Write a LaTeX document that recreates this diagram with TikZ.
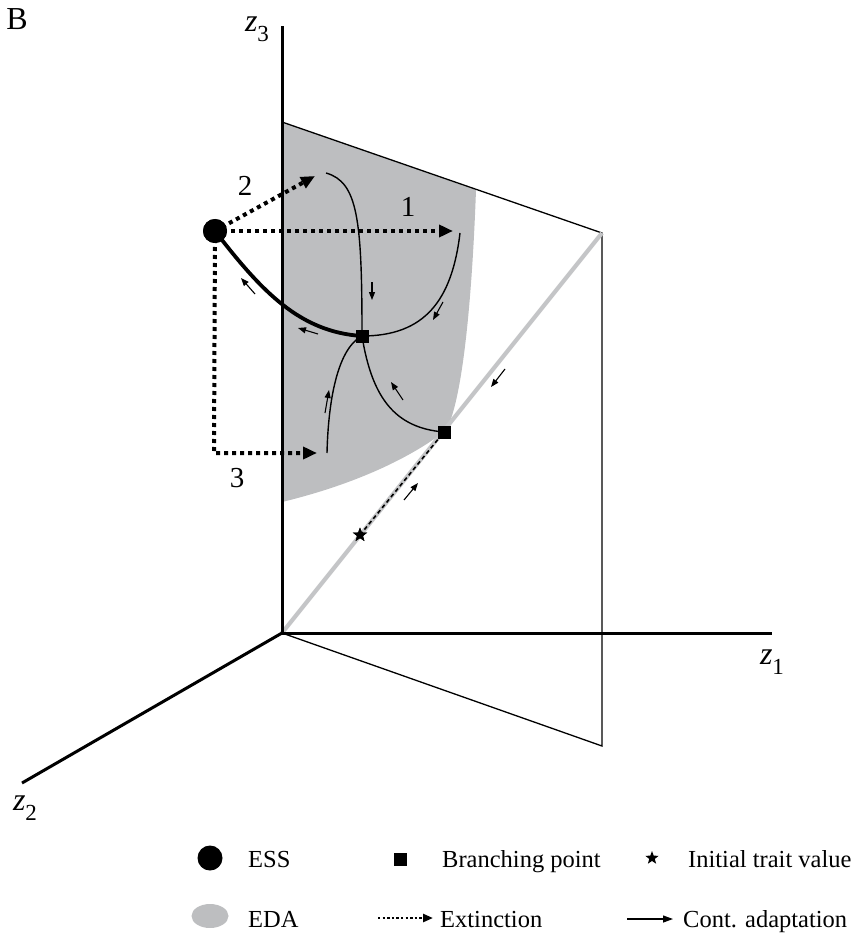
\documentclass[tikz,border=0pt]{standalone}
\usepackage{fontspec}
\setmainfont{Liberation Serif}
\usetikzlibrary{arrows.meta,shapes.geometric}
\definecolor{edagray}{RGB}{189,190,192}
\definecolor{diaggray}{RGB}{196,197,199}
\newcommand\zlab[1]{{\itshape z}\raisebox{-0.32em}{\fontsize{23}{25}\selectfont #1}}
\begin{document}
\begin{tikzpicture}[x=1pt,y=-1pt,
  axis/.style={line width=3pt},
  planeedge/.style={line width=1.3pt},
  traj/.style={line width=1.4pt},
  esstraj/.style={line width=3.8pt},
  ext/.style={line width=4pt, dash pattern=on 4pt off 4pt, -{Triangle[length=14pt,width=12pt]}},
  smallarr/.style={line width=1.1pt, -{Triangle[length=8pt,width=6pt]}},
  bsq/.style={rectangle, fill=black, draw=none, minimum size=13pt, inner sep=0pt},
  essdot/.style={circle, fill=black, draw=none, minimum size=24pt, inner sep=0pt},
  starmark/.style={star, star points=5, star point ratio=2.4, fill=black, draw=none, minimum size=15pt, inner sep=0pt},
  lbl/.style={font=\fontsize{29}{31}\selectfont, inner sep=0pt},
  zl/.style={font=\fontsize{32}{34}\selectfont, inner sep=0pt},
  legtxt/.style={font=\fontsize{24.5}{28}\selectfont, inner sep=0pt, anchor=base west},
  legext/.style={line width=2.4pt, dash pattern=on 2.4pt off 2.2pt, -{Triangle[length=10pt,width=8pt]}},
  legcont/.style={line width=1.2pt, -{Triangle[length=10pt,width=7pt]}}
]
\useasboundingbox (0,0) rectangle (860,933);

% key coordinates
\coordinate (O) at (282,633);
\coordinate (z3end) at (282,26);
\coordinate (z1end) at (772,633);
\coordinate (z2end) at (22,783);
\coordinate (P1) at (282,122);
\coordinate (P2) at (602,233);
\coordinate (P3) at (602,746);

% EDA region
\fill[edagray] (P1) -- (476,190) .. controls (472,300) and (463,390) .. (449,424)
  -- (444,432) .. controls (400,465) and (340,488) .. (282,502) -- cycle;

% plane edges
\draw[planeedge] (P1) -- (P2) -- (P3) -- (O);
% diagonal
\draw[diaggray, line width=4.2pt] (O) -- (P2);

% axes
\draw[axis] (O) -- (z3end);
\draw[axis] (O) -- (z1end);
\draw[axis] (O) -- (z2end);

% markers (placed as nodes; drawn again on top)
\node[essdot] (ess) at (215,231) {};
\node[bsq] (sq1) at (362,336) {};
\node[bsq] (sq2) at (444,432) {};
\node[starmark] (st) at (360,535) {};

% trajectory end points
\coordinate (a0) at (326,173);
\coordinate (b0) at (460,233);
\coordinate (c1) at (327,453);

% dashed segment from initial value to branching point
\draw[line width=1.6pt, dash pattern=on 4pt off 3pt] (st.center) -- (sq2.center);

% thin trajectories
\draw[traj] (a0) .. controls (358,182) and (362,220) .. (sq1.center);
\draw[traj] (b0) .. controls (452,300) and (425,336) .. (sq1.center);
\draw[traj] (sq1.center) .. controls (335,350) and (328,410) .. (c1);
\draw[traj] (sq1.center) .. controls (372,398) and (395,428) .. (sq2.center);
% thick ESS trajectory
\draw[esstraj] (ess.center) .. controls (262,292) and (300,332) .. (sq1.center);

% extinction arrows
\coordinate (t1) at (453,231);
\coordinate (t2) at (315,176);
\coordinate (k3) at (214,453);
\coordinate (t3) at (317,453);
\draw[ext] (ess.center) -- (t1);
\draw[ext] (ess.center) -- (t2);
\draw[ext] (ess.center) -- (k3) -- (t3);

% small direction arrows
\coordinate (s1a) at (255,294); \coordinate (s1b) at (241,278);
\coordinate (s2a) at (318,334); \coordinate (s2b) at (298,328);
\coordinate (s3a) at (372,282); \coordinate (s3b) at (372,300);
\coordinate (s4a) at (443,302); \coordinate (s4b) at (433,320);
\coordinate (s5a) at (325,413); \coordinate (s5b) at (329,390);
\coordinate (s6a) at (403,400); \coordinate (s6b) at (391,382);
\coordinate (s7a) at (505,369); \coordinate (s7b) at (491,387);
\coordinate (s8a) at (404,500); \coordinate (s8b) at (418,483);
\draw[smallarr] (s1a) -- (s1b);
\draw[smallarr] (s2a) -- (s2b);
\draw[smallarr] (s3a) -- (s3b);
\draw[smallarr] (s4a) -- (s4b);
\draw[smallarr] (s5a) -- (s5b);
\draw[smallarr] (s6a) -- (s6b);
\draw[smallarr] (s7a) -- (s7b);
\draw[smallarr] (s8a) -- (s8b);

% redraw markers on top
\node[essdot] at (ess) {};
\node[bsq] at (sq1) {};
\node[bsq] at (sq2) {};
\node[starmark] at (st) {};

% labels
\node[zl] (labB) at (17,19) {B};
\node[zl] (labz3) at (257,29) {\zlab{3}};
\node[zl] (labz1) at (772,662) {\zlab{1}};
\node[zl] (labz2) at (25,808) {\zlab{2}};
\node[lbl] (lab1) at (408,207) {1};
\node[lbl] (lab2) at (245,186) {2};
\node[lbl] (lab3) at (237,478) {3};

% legend
\node[essdot, minimum size=25pt] (lgess) at (210,858) {};
\node[legtxt] (lgesst) at (248,867) {ESS};
\node[bsq] (lgsq) at (400,859) {};
\node[legtxt] (lgsqt) at (442,867) {Branching point};
\node[starmark, minimum size=14pt] (lgst) at (652,858) {};
\node[legtxt] (lgstt) at (688,867) {Initial trait value};
\node[ellipse, fill=edagray, draw=none, minimum width=37pt, minimum height=24pt, inner sep=0pt] (lgeda) at (210,916) {};
\node[legtxt] (lgedat) at (248,927) {EDA};
\coordinate (lx0) at (378,918); \coordinate (lx1) at (433,918);
\draw[legext] (lx0) -- (lx1);
\node[legtxt] (lgextt) at (440,927) {Extinction};
\coordinate (lc0) at (627,919); \coordinate (lc1) at (673,919);
\draw[legcont] (lc0) -- (lc1);
\node[legtxt] (lgcontt) at (683,927) {Cont. adaptation};
\end{tikzpicture}
\end{document}
